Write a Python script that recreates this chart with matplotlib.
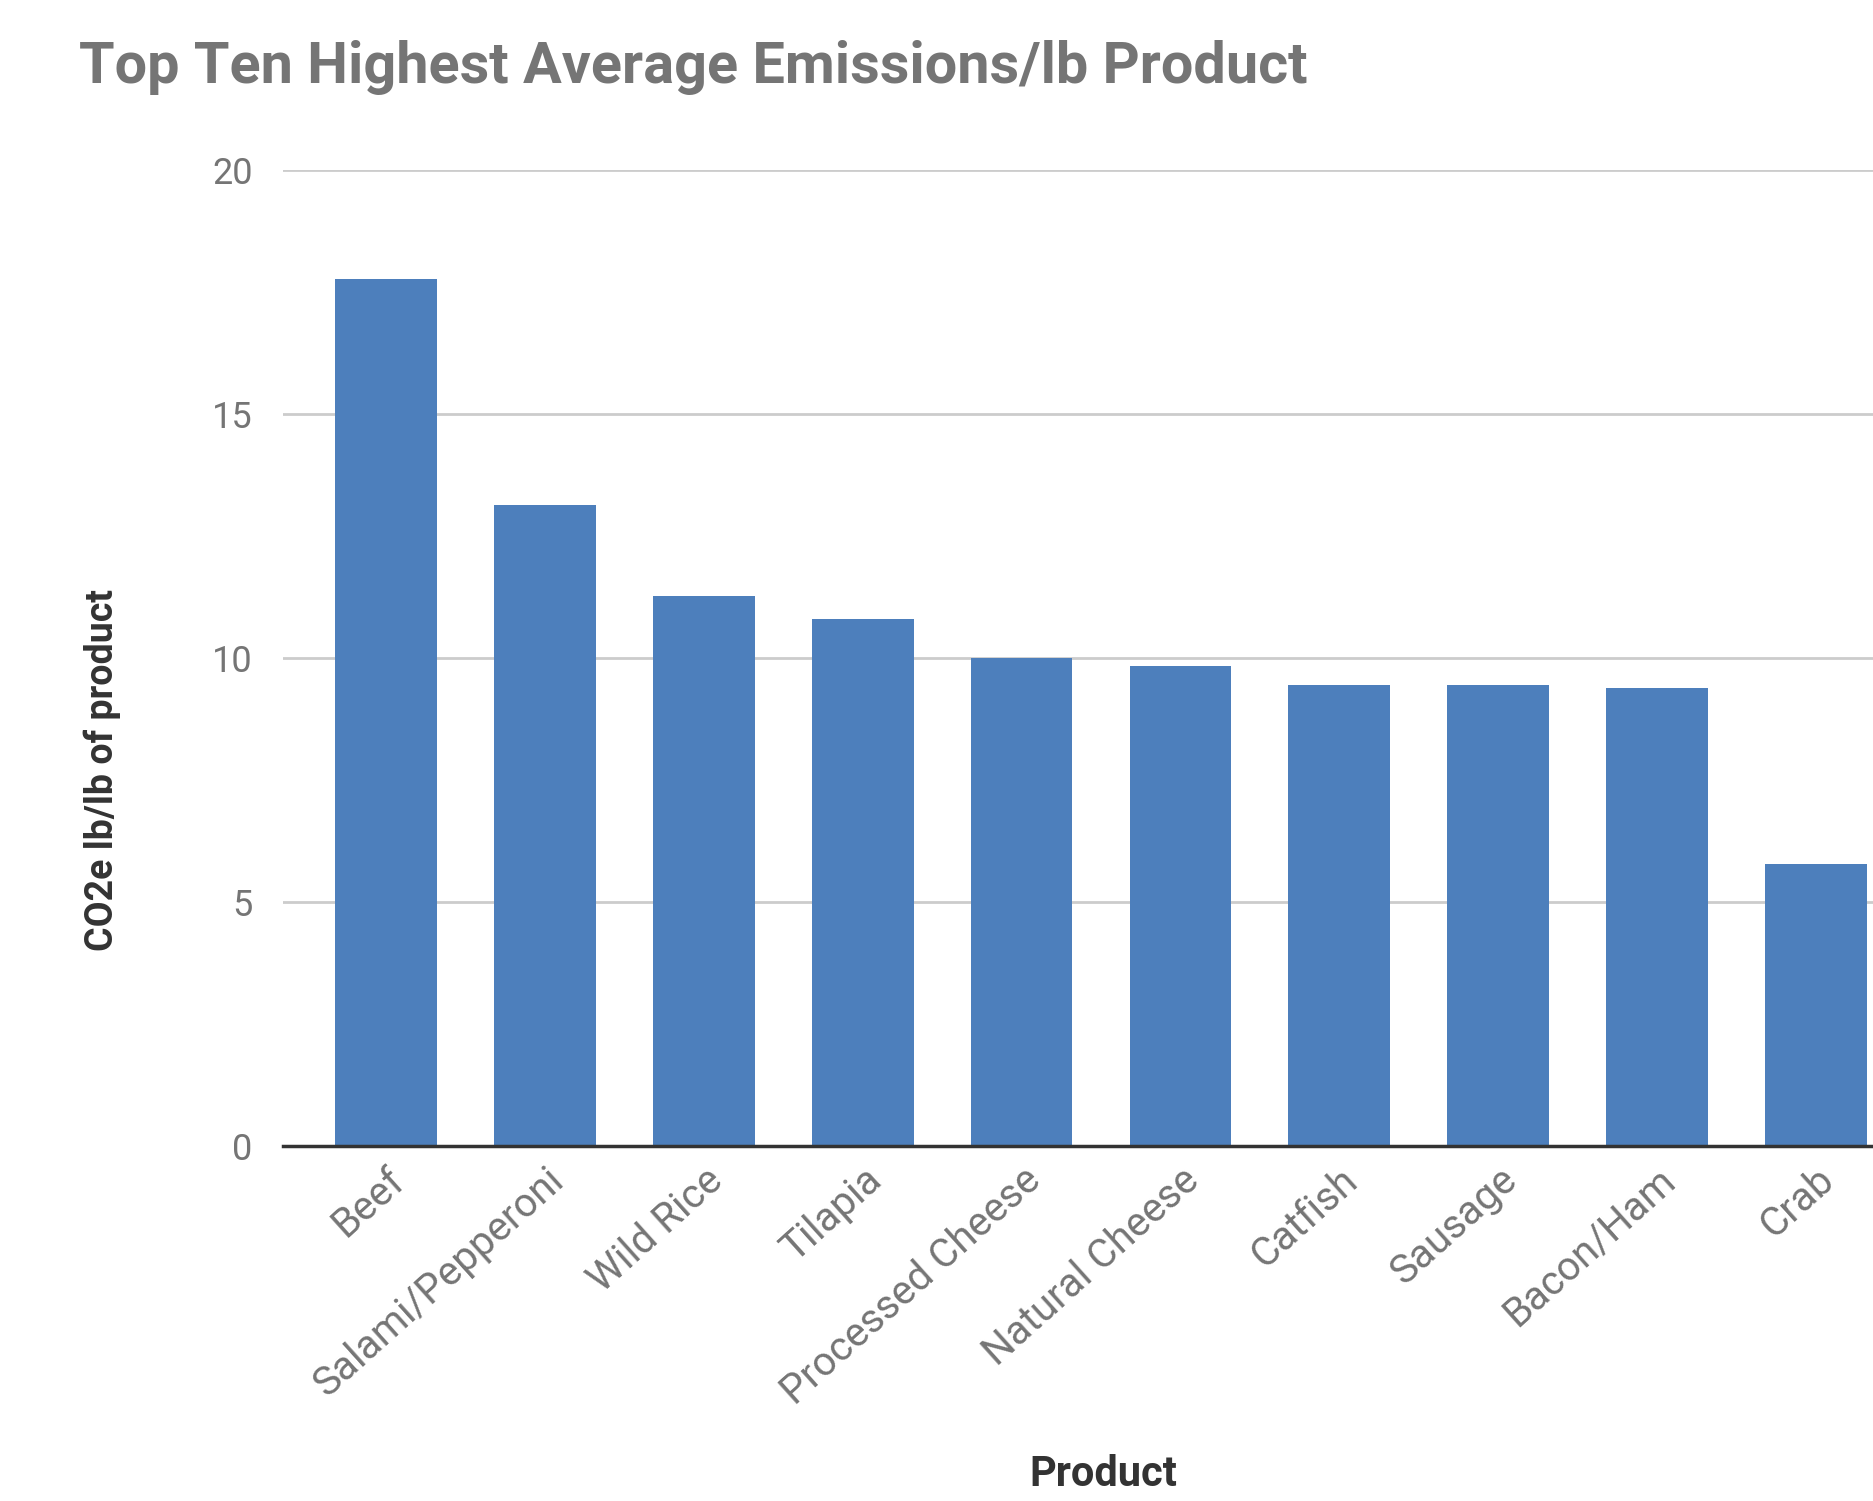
import matplotlib
matplotlib.use("Agg")
import matplotlib.pyplot as plt

categories = ["Beef", "Salami/Pepperoni", "Wild Rice", "Tilapia", "Processed Cheese",
              "Natural Cheese", "Catfish", "Sausage", "Bacon/Ham", "Crab"]
values = [17.75, 13.12, 11.26, 10.80, 9.99, 9.84, 9.45, 9.45, 9.38, 5.78]
yticks = [0, 5, 10, 15, 20]

title = "Top Ten Highest Average Emissions/lb Product"
ylabel = "CO2e lb/lb of product"
xlabel = "Product"

plt.rcParams['font.family'] = ['Roboto', 'DejaVu Sans']

fig = plt.figure(figsize=(18.74, 15.01), dpi=100)
ax = fig.add_axes([0.151, 0.2365, 1.024 - 0.151, 0.6505])

x = list(range(len(categories)))
ax.bar(x, values, width=0.64, color='#4d7fbc', zorder=3)
ax.set_xlim(-0.65, len(categories) - 1 + 0.65)
ax.set_ylim(0, 20)
ax.set_yticks(yticks)
ax.set_yticklabels([str(t) for t in yticks], fontsize=26, color='#757575')
ax.yaxis.grid(True, color='#cccccc', linewidth=2, zorder=0)
ax.set_axisbelow(True)
ax.tick_params(axis='y', length=0, pad=22)
ax.tick_params(axis='x', length=0, pad=10)
ax.set_xticks(x)
ax.set_xticklabels(categories, rotation=42, ha='right', rotation_mode='anchor',
                   fontsize=29, color='#757575')
for s in ['top', 'right', 'left']:
    ax.spines[s].set_visible(False)
ax.spines['bottom'].set_color('#333333')
ax.spines['bottom'].set_linewidth(2.5)
ax.spines['bottom'].set_zorder(4)

fig.text(0.042, 0.955, title, fontsize=41.5, fontweight='bold', color='#757575',
         ha='left', va='center')
fig.text(0.0545, 0.487, ylabel, fontsize=27, fontweight='bold', color='#333333',
         rotation=90, ha='center', va='center')
fig.text(0.589, 0.004, xlabel, fontsize=30, fontweight='bold', color='#333333',
         ha='center', va='bottom')

fig.savefig("out.png", dpi=100, facecolor='white')
